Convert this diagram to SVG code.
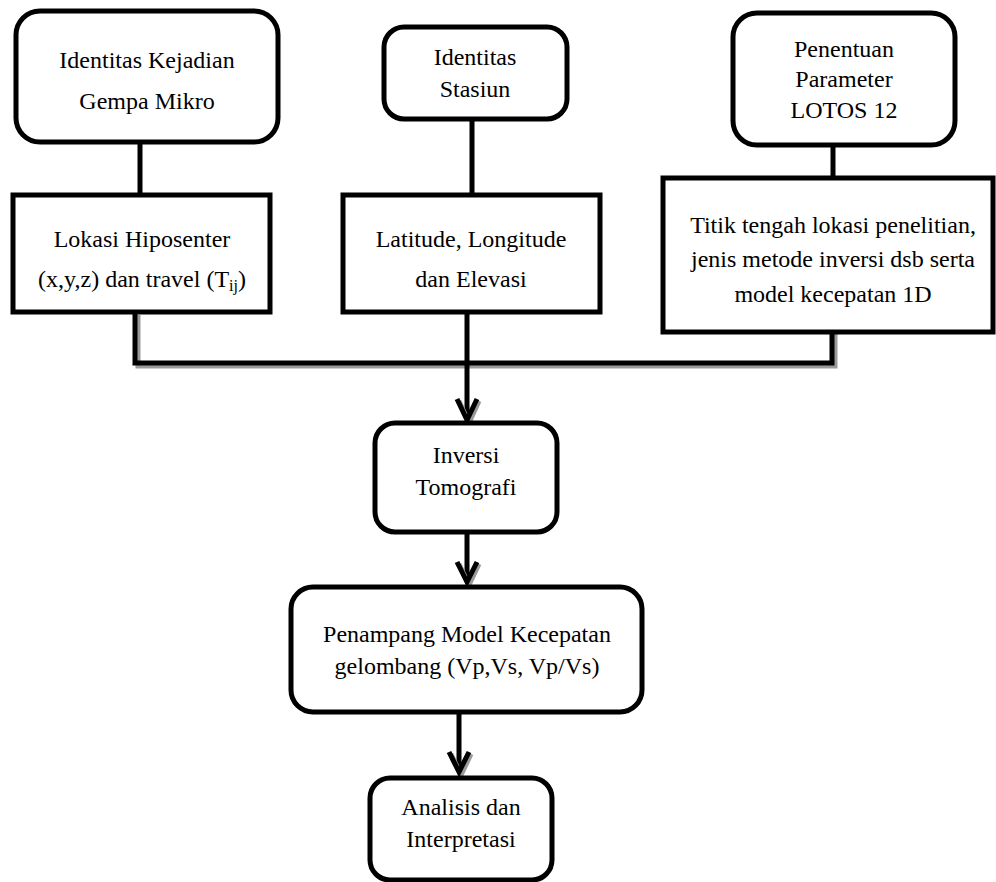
<svg xmlns="http://www.w3.org/2000/svg" width="996" height="882" viewBox="0 0 996 882">
<style>
.box{fill:#fff;stroke:#000;stroke-width:5}
.t{font-family:"Liberation Serif","Times New Roman",serif;font-size:24px;fill:#000;text-anchor:middle}
.ln{fill:none;stroke:#000;stroke-width:5}
.sh{fill:none;stroke:#9a9a9a;stroke-width:5}
.ar{fill:none;stroke:#000;stroke-width:5;stroke-linejoin:miter}
.ars{fill:none;stroke:#9a9a9a;stroke-width:5}
</style>
<rect width="996" height="882" fill="#fff"/>
<g id="connectors">
  <line class="ln" x1="140" y1="142" x2="140" y2="195"/>
  <line class="ln" x1="472" y1="119" x2="472" y2="195"/>
  <line class="ln" x1="833" y1="145" x2="833" y2="178"/>
  <polyline class="sh" points="138,315 138,366 835,366 835,334"/>
  <polyline class="ln" points="135,312 135,363 832,363 832,332"/>
  <line class="ln" x1="467" y1="313" x2="467" y2="418"/>
  <polyline class="ars" points="459,401 469,423 479,401"/>
  <polyline class="ar" points="457,399 467,420 477,399"/>
  <line class="ln" x1="467" y1="532" x2="467" y2="580"/>
  <polyline class="ars" points="459,564 469,585 479,564"/>
  <polyline class="ar" points="457,562 467,582 477,562"/>
  <line class="ln" x1="459" y1="712" x2="459" y2="770"/>
  <polyline class="ars" points="451,754 461,775 471,754"/>
  <polyline class="ar" points="449,752 459,772 469,752"/>
</g>
<g id="n1">
  <rect class="box" x="16" y="11" width="262" height="131" rx="24"/>
  <text class="t" x="147" y="68">Identitas Kejadian</text>
  <text class="t" x="147" y="109">Gempa Mikro</text>
</g>
<g id="n2">
  <rect class="box" x="13" y="195" width="257" height="117"/>
  <text class="t" x="142" y="247">Lokasi Hiposenter</text>
  <text class="t" x="142" y="287">(x,y,z) dan travel (T<tspan font-size="16" dy="4">ij</tspan><tspan dy="-4">)</tspan></text>
</g>
<g id="n3">
  <rect class="box" x="384" y="27" width="183" height="92" rx="20"/>
  <text class="t" x="475" y="65">Identitas</text>
  <text class="t" x="475" y="97">Stasiun</text>
</g>
<g id="n4">
  <rect class="box" x="343" y="195" width="257" height="117"/>
  <text class="t" x="471" y="247">Latitude, Longitude</text>
  <text class="t" x="471" y="287">dan Elevasi</text>
</g>
<g id="n5">
  <rect class="box" x="733" y="13" width="222" height="132" rx="24"/>
  <text class="t" x="844" y="57">Penentuan</text>
  <text class="t" x="844" y="87">Parameter</text>
  <text class="t" x="844" y="118">LOTOS 12</text>
</g>
<g id="n6">
  <rect class="box" x="663" y="178" width="330" height="154"/>
  <text class="t" x="833" y="233">Titik tengah lokasi penelitian,</text>
  <text class="t" x="833" y="267">jenis metode inversi dsb serta</text>
  <text class="t" x="833" y="302">model kecepatan 1D</text>
</g>
<g id="n7">
  <rect class="box" x="375" y="423" width="182" height="109" rx="20"/>
  <text class="t" x="466" y="463">Inversi</text>
  <text class="t" x="466" y="495">Tomografi</text>
</g>
<g id="n8">
  <rect class="box" x="291" y="587" width="351" height="125" rx="22"/>
  <text class="t" x="467" y="642">Penampang Model Kecepatan</text>
  <text class="t" x="467" y="674">gelombang (Vp,Vs, Vp/Vs)</text>
</g>
<g id="n9">
  <rect class="box" x="370" y="778" width="182" height="102" rx="20"/>
  <text class="t" x="461" y="815">Analisis dan</text>
  <text class="t" x="461" y="847">Interpretasi</text>
</g>
</svg>
